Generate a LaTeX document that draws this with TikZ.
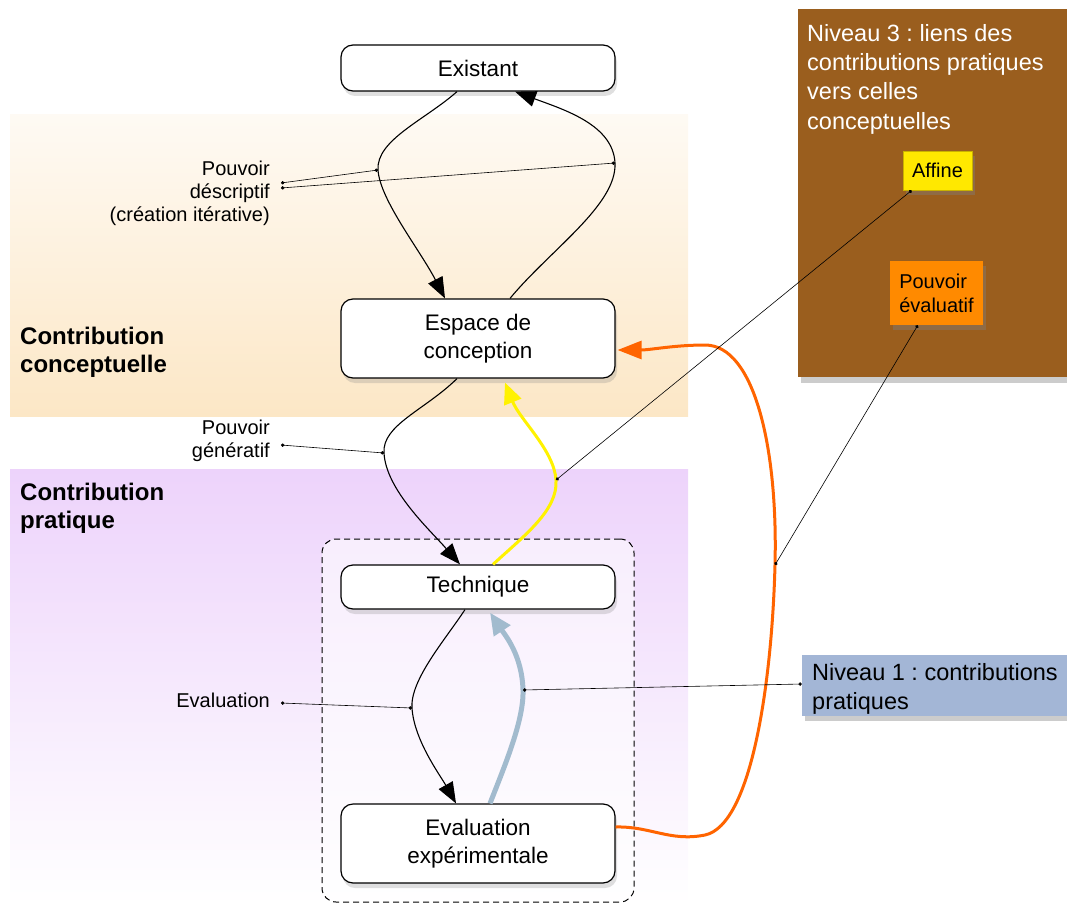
\documentclass[tikz,border=0pt]{standalone}
\usepackage{fontspec}
\setmainfont{Liberation Sans}
\usetikzlibrary{arrows.meta,shadows,calc}
\frenchspacing
\definecolor{peach}{HTML}{FCE7C6}
\definecolor{lav}{HTML}{EDD3FB}
\definecolor{brownbox}{HTML}{9A5E1E}
\definecolor{affiney}{HTML}{FFE800}
\definecolor{affineb}{HTML}{C9B200}
\definecolor{evalor}{HTML}{FF8A00}
\definecolor{niv1}{HTML}{A3B6D6}
\definecolor{orangeline}{HTML}{FF6400}
\definecolor{yellowline}{HTML}{FFF200}
\definecolor{blueline}{HTML}{A2BBCE}
\begin{document}
\begin{tikzpicture}[x=1pt,y=-1pt,
  mainbox/.style={draw=black, line width=1.2pt, fill=white, rounded corners=12pt,
    minimum width=274pt, align=center, inner sep=0pt,
    font=\fontsize{22.5}{28.5}\selectfont,
    drop shadow={opacity=0.25, shadow xshift=2pt, shadow yshift=-5pt}},
  lbl/.style={align=right, anchor=east, inner sep=0pt, font=\fontsize{20}{23}\selectfont},
  sect/.style={align=left, anchor=west, inner sep=0pt, font=\fontsize{24}{28}\selectfont\bfseries},
  tagbox/.style={inner sep=0pt, font=\fontsize{20}{24}\selectfont,
    drop shadow={opacity=0.4, shadow xshift=3pt, shadow yshift=-5pt}},
  conn/.style={line width=1.1pt, -{Triangle[length=21pt,width=16pt]}},
  yellowc/.style={draw=yellowline, line width=3pt, -{Triangle[length=21pt,width=18pt]}},
  bluec/.style={draw=blueline, line width=5pt, -{Triangle[length=22pt,width=19pt]}},
  orangec/.style={draw=orangeline, line width=3pt, -{Triangle[length=24pt,width=18pt]}},
  leader/.style={line width=0.6pt, {Circle[length=3.4pt]}-{Circle[length=3.4pt]}}
]
\useasboundingbox (0,0) rectangle (1067,904);

% background bands
\shade[top color=peach!20, bottom color=peach] (10,115) rectangle (688,416);
\shade[top color=lav, bottom color=white] (10,469) rectangle (688,904);

% group box
\node[draw=black, line width=1pt, dash pattern=on 6pt off 4pt, rounded corners=14pt,
  fill=white, fill opacity=0.55, minimum width=312pt, minimum height=363pt, inner sep=0pt]
  (grp) at (478,720.5) {};

% section labels
\node[sect] (sc) at (20,352) {Contribution\\conceptuelle};
\node[sect] (sp) at (20,508) {Contribution\\pratique};

% main nodes
\node[mainbox, minimum height=46pt] (ex) at (478,68) {Existant};
\node[mainbox, minimum height=79pt] (esp) at (478,338.5) {Espace de\\conception};
\node[mainbox, minimum height=44pt] (tech) at (478,587) {Technique};
\node[mainbox, minimum height=79pt] (ev) at (478,843.5) {Evaluation\\expérimentale};

% right side boxes
\node[fill=brownbox, minimum width=269pt, minimum height=368pt, inner sep=0pt,
  drop shadow={opacity=0.4, shadow xshift=3pt, shadow yshift=-6pt}] (n3) at (932.5,193) {};
\node[anchor=north west, text=white, align=left, inner sep=0pt,
  font=\fontsize{23.5}{29.3}\selectfont] (n3t) at (807,24) {Niveau 3 : liens des\\contributions pratiques\\vers celles\\conceptuelles};
\node[tagbox, fill=affiney, draw=affineb, line width=0.8pt, minimum width=69pt, minimum height=39pt] (aff) at (937.5,170.5) {Affine};
\node[tagbox, fill=evalor, minimum width=93pt, minimum height=64pt, align=left] (pe) at (936.5,293) {Pouvoir\\évaluatif};
\node[tagbox, fill=niv1, minimum width=265pt, minimum height=61pt] (n1) at (934.5,685.5) {};
\node[anchor=north west, align=left, inner sep=0pt, font=\fontsize{23.5}{29}\selectfont]
  (n1t) at (812,663) {Niveau 1 : contributions\\pratiques};

% labels
\node[lbl] (l1) at (270,193) {Pouvoir\\déscriptif\\(création itérative)};
\node[lbl] (l2) at (270,440.5) {Pouvoir\\génératif};
\node[lbl] (l3) at (270,700) {Evaluation};
\coordinate (p1a) at (281,183);
\coordinate (p1b) at (281,188);
\coordinate (p2) at (281,445);
\coordinate (p3) at (281,703);

% connectors
\draw[conn] ([xshift=-21pt]ex.south) .. controls (425,120) and (376,140) .. (378,170) coordinate (d1)
  .. controls (380,200) and (420,250) .. ([xshift=-33pt]esp.north);
\draw[conn] ([xshift=32pt]esp.north) .. controls (550,250) and (617,205) .. (615,163) coordinate (d2)
  .. controls (613,125) and (565,110) .. ([xshift=37pt]ex.south);
\draw[conn] ([xshift=-21pt]esp.south) .. controls (425,410) and (382,425) .. (384,453) coordinate (d3)
  .. controls (386,490) and (430,530) .. ([xshift=-18pt]tech.north);
\draw[conn] ([xshift=-13pt]tech.south) .. controls (445,640) and (410,680) .. (412,708) coordinate (d5)
  .. controls (414,740) and (440,775) .. ([xshift=-22pt]ev.north);
\draw[yellowc] ([xshift=15pt]tech.north) .. controls (525,535) and (558,510) .. (556,480) coordinate (d4)
  .. controls (554,450) and (520,420) .. ([xshift=27pt,yshift=-4pt]esp.south);
\draw[bluec] ([xshift=12pt]ev.north) .. controls (505,765) and (524,720) .. (523,690) coordinate (d6)
  .. controls (522,655) and (505,635) .. ([xshift=12pt,yshift=-3pt]tech.south);
\draw[orangec] ([yshift=16.5pt]ev.east) .. controls (650,826) and (670,842) .. (705,835)
  .. controls (752,825) and (772,680) .. (775,565) coordinate (d7)
  .. controls (778,450) and (755,345) .. (705,345)
  .. controls (675,345) and (650,350) .. ([xshift=2pt,yshift=-11.5pt]esp.east);

% leader lines
\draw[leader] (p1a) -- (d1);
\draw[leader] (p1b) -- (d2);
\draw[leader] (p2) -- (d3);
\draw[leader] (p3) -- (d5);
\draw[leader] (d4) -- ([xshift=9pt]aff.south west);
\draw[leader] (d7) -- ([xshift=28pt]pe.south west);
\draw[leader] (d6) -- ([yshift=1.5pt]n1.west);
\end{tikzpicture}
\end{document}
